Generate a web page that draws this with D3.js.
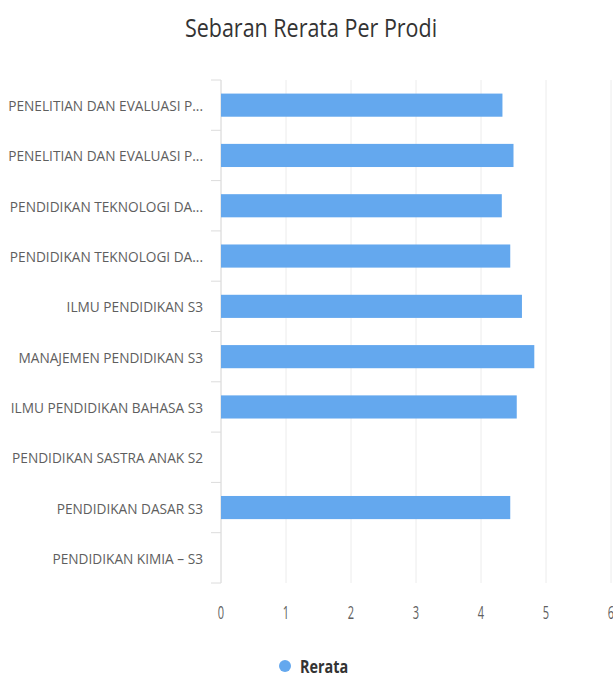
<!DOCTYPE html>
<html>
<head>
<meta charset="utf-8">
<script src="https://cdn.jsdelivr.net/npm/d3@7"></script>
<style>
  html, body { margin: 0; padding: 0; background: #fff; }
  text { font-family: "Open Sans", "DejaVu Sans", sans-serif; }
</style>
</head>
<body>
<div id="chart"></div>
<script>
// data
const categories = [
  'PENELITIAN DAN EVALUASI P...',
  'PENELITIAN DAN EVALUASI P...',
  'PENDIDIKAN TEKNOLOGI DA...',
  'PENDIDIKAN TEKNOLOGI DA...',
  'ILMU PENDIDIKAN S3',
  'MANAJEMEN PENDIDIKAN S3',
  'ILMU PENDIDIKAN BAHASA S3',
  'PENDIDIKAN SASTRA ANAK S2',
  'PENDIDIKAN DASAR S3',
  'PENDIDIKAN KIMIA – S3'
];
const rerata = [4.33, 4.50, 4.32, 4.45, 4.63, 4.82, 4.55, null, 4.45, null];
const xTicks = [0, 1, 2, 3, 4, 5, 6];

const W = 613, H = 679;
const margin = { top: 80, right: 2, bottom: 96, left: 221 };
// the source is horizontally squashed
const squeezeLabel = 0.9;
const squeezeTick = 0.58;
const squeezeTitle = 0.86;

const svg = d3.select('#chart').append('svg')
  .attr('width', W)
  .attr('height', H);

const height = H - margin.top - margin.bottom;

const g = svg.append('g').attr('transform', `translate(${margin.left},${margin.top})`);

const x = d3.scaleLinear().domain([0, 6]).range([0, 390]);
const y = d3.scaleBand().domain(d3.range(categories.length)).range([0, height]).paddingInner(0.54).paddingOuter(0.27);
const band = d3.scaleBand().domain(d3.range(categories.length)).range([0, height]);

// grid
g.append('g')
  .selectAll('line')
  .data(xTicks)
  .join('line')
  .attr('x1', d => x(d)).attr('x2', d => x(d))
  .attr('y1', 0).attr('y2', height)
  .attr('stroke', '#ececec')
  .attr('stroke-width', 1);

// category axis
g.append('line')
  .attr('x1', 0).attr('x2', 0)
  .attr('y1', 0).attr('y2', height)
  .attr('stroke', '#dcdcdc');

g.append('g')
  .selectAll('line')
  .data(d3.range(categories.length + 1))
  .join('line')
  .attr('x1', -10).attr('x2', 0)
  .attr('y1', d => d === categories.length ? height : band(d))
  .attr('y2', d => d === categories.length ? height : band(d))
  .attr('stroke', '#dcdcdc');

g.append('g')
  .selectAll('text')
  .data(categories)
  .join('text')
  .attr('transform', (d, i) => `translate(-18,${band(i) + band.bandwidth() / 2 + 6}) scale(${squeezeLabel},1)`)
  .attr('text-anchor', 'end')
  .attr('font-size', 15.2)
  .attr('fill', '#5e5e5e')
  .text(d => d);

// bars
g.append('g')
  .selectAll('rect')
  .data(rerata.map((v, i) => ({ v, i })).filter(d => d.v != null))
  .join('rect')
  .attr('x', x(0))
  .attr('y', d => y(d.i))
  .attr('width', d => x(d.v) - x(0))
  .attr('height', y.bandwidth())
  .attr('fill', '#64a8ee');

// value axis labels
g.append('g')
  .selectAll('text')
  .data(xTicks)
  .join('text')
  .attr('transform', d => `translate(${x(d)},${height + 36}) scale(${squeezeTick},1)`)
  .attr('text-anchor', 'middle')
  .attr('font-size', 19)
  .attr('fill', '#606060')
  .text(d => d);

// title
svg.append('text')
  .attr('transform', `translate(311,37) scale(${squeezeTitle},1)`)
  .attr('text-anchor', 'middle')
  .attr('font-size', 25)
  .attr('fill', '#333')
  .text('Sebaran Rerata Per Prodi');

// legend
const lg = svg.append('g').attr('transform', 'translate(285,666)');
lg.append('circle').attr('r', 6).attr('fill', '#64a8ee');
lg.append('text')
  .attr('transform', `translate(15,7) scale(0.8,1)`)
  .attr('font-size', 18)
  .attr('font-weight', 'bold')
  .attr('fill', '#333')
  .text('Rerata');
</script>
</body>
</html>
